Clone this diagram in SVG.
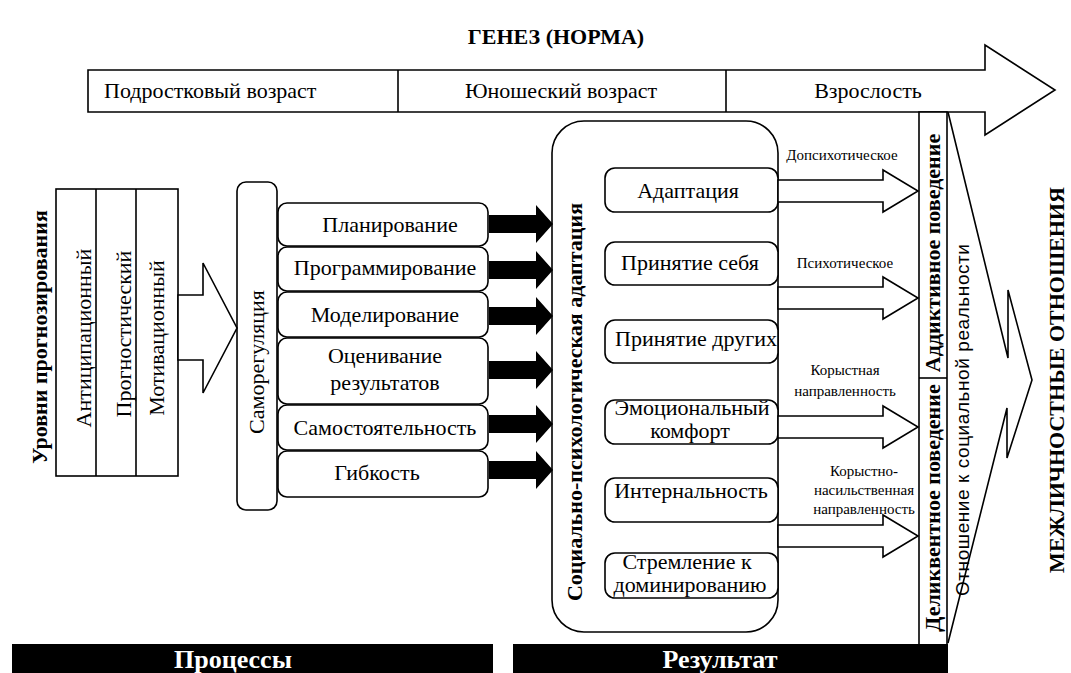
<svg xmlns="http://www.w3.org/2000/svg" width="1071" height="673" viewBox="0 0 1071 673">
<style>
.t{font-family:"Liberation Serif","Times New Roman","DejaVu Serif",serif;font-size:22px;fill:#000}
.b{font-weight:bold}
.s{font-family:"Liberation Serif","Times New Roman","DejaVu Serif",serif;font-size:15px;fill:#000}
.sans{font-family:"Liberation Sans","DejaVu Sans",sans-serif;font-size:19px;fill:#000}
.m{text-anchor:middle}
.box{fill:#fff;stroke:#000;stroke-width:1.6}
.ln{fill:none;stroke:#000;stroke-width:1.6}
.harrow{fill:#fff;stroke:#000;stroke-width:1.6;stroke-linejoin:miter}
.barr{fill:#000;stroke:none}
.bar{fill:#000}
.wt{fill:#fff;font-family:"Liberation Serif","Times New Roman","DejaVu Serif",serif;font-size:26px;font-weight:bold;text-anchor:middle}
</style>
<rect width="1071" height="673" fill="#fff"/>

<g id="title">
<text class="t b m" x="556" y="44" font-size="19">ГЕНЕЗ (НОРМА)</text>
</g>

<g id="genesis-arrow">
<polygon class="harrow" points="88,70 985,70 985,45 1055,90 985,135 985,112 88,112"/>
<line class="ln" x1="398" y1="70" x2="398" y2="112"/>
<line class="ln" x1="726" y1="70" x2="726" y2="112"/>
<text class="t" x="104" y="98">Подростковый возраст</text>
<text class="t m" x="561" y="98">Юношеский возраст</text>
<text class="t m" x="868" y="98">Взрослость</text>
</g>

<g id="levels">
<text class="t b m" transform="translate(47,337) rotate(-90)">Уровни прогнозирования</text>
<rect class="box" x="56" y="189" width="122" height="287"/>
<line class="ln" x1="96" y1="189" x2="96" y2="476"/>
<line class="ln" x1="136" y1="189" x2="136" y2="476"/>
<text class="t m" transform="translate(91,338) rotate(-90)">Антиципационный</text>
<text class="t m" transform="translate(131,334) rotate(-90)">Прогностический</text>
<text class="t m" transform="translate(164,338) rotate(-90)">Мотивационный</text>
</g>

<g id="selfreg">
<rect class="box" x="237" y="182" width="40" height="328" rx="9"/>
<text class="t m" transform="translate(264,362) rotate(-90)">Саморегуляция</text>
</g>

<g id="processes">
<rect class="box" x="278" y="203" width="210" height="43" rx="9"/>
<text class="t m" x="390" y="232">Планирование</text>
<rect class="box" x="278" y="247" width="210" height="44" rx="9"/>
<text class="t m" x="385" y="275">Программирование</text>
<rect class="box" x="278" y="292" width="210" height="45" rx="9"/>
<text class="t m" x="385" y="322">Моделирование</text>
<rect class="box" x="278" y="338" width="210" height="66" rx="9"/>
<text class="t m" x="385" y="363">Оценивание</text>
<text class="t m" x="385" y="390">результатов</text>
<rect class="box" x="278" y="405" width="210" height="45" rx="9"/>
<text class="t m" x="385" y="435">Самостоятельность</text>
<rect class="box" x="278" y="451" width="210" height="46" rx="9"/>
<text class="t m" x="377" y="480">Гибкость</text>
</g>

<g id="adaptation">
<rect class="box" x="552" y="121" width="226" height="511" rx="32"/>
<text class="t b m" transform="translate(582,402) rotate(-90)">Социально-психологическая адаптация</text>
<rect class="box" x="605" y="168" width="173" height="44" rx="10"/>
<text class="t m" x="688" y="198">Адаптация</text>
<rect class="box" x="605" y="242" width="173" height="43" rx="10"/>
<text class="t m" x="690" y="270">Принятие себя</text>
<rect class="box" x="605" y="320" width="173" height="43" rx="10"/>
<text class="t m" x="696" y="346">Принятие других</text>
<rect class="box" x="605" y="400" width="173" height="44" rx="10"/>
<text class="t m" x="692" y="415" font-size="20">Эмоциональный</text>
<text class="t m" x="690" y="438" font-size="20">комфорт</text>
<rect class="box" x="605" y="478" width="173" height="44" rx="10"/>
<text class="t m" x="691" y="498">Интернальность</text>
<rect class="box" x="605" y="553" width="173" height="45" rx="10"/>
<text class="t m" x="687" y="569" font-size="20">Стремление к</text>
<text class="t m" x="690" y="592" font-size="20">доминированию</text>
</g>

<g id="behaviour">
<rect class="box" x="919" y="112" width="28" height="533"/>
<line class="ln" x1="919" y1="378" x2="947" y2="378"/>
<text class="t b m" font-size="20" transform="translate(940,253) rotate(-90)">Аддиктивное поведение</text>
<text class="t b m" font-size="20" transform="translate(940,508) rotate(-90)">Деликвентное поведение</text>
</g>

<g id="social-reality">
<text class="sans m" transform="translate(969,420) rotate(-90)" textLength="352" lengthAdjust="spacing">Отношение к социальной реальности</text>
</g>

<g id="interpersonal">
<text class="t b m" font-size="26" transform="translate(1064,380) rotate(-90)">МЕЖЛИЧНОСТНЫЕ ОТНОШЕНИЯ</text>
</g>

<g id="connectors">
<polygon class="harrow" points="178,295 203,295 203,263 237,328 203,393 203,360 178,360"/>
<polygon class="barr" points="489,215 536,215 536,205 553,224 536,243 536,233 489,233"/>
<polygon class="barr" points="489,261 536,261 536,251 553,270 536,289 536,279 489,279"/>
<polygon class="barr" points="489,307 536,307 536,297 553,316 536,335 536,325 489,325"/>
<polygon class="barr" points="489,361 536,361 536,351 553,370 536,389 536,379 489,379"/>
<polygon class="barr" points="489,415 536,415 536,405 553,424 536,443 536,433 489,433"/>
<polygon class="barr" points="489,461 536,461 536,451 553,470 536,489 536,479 489,479"/>
<polygon class="harrow" points="778,180 883,180 883,170 918,191 883,212 883,202 778,202"/>
<polygon class="harrow" points="778,287 883,287 883,277 918,298 883,319 883,309 778,309"/>
<polygon class="harrow" points="778,416 883,416 883,406 918,427 883,448 883,438 778,438"/>
<polygon class="harrow" points="778,525 883,525 883,515 918,536 883,557 883,547 778,547"/>
<polyline class="ln" stroke-width="1.3" points="948,112 1008,358 1008,290 1032,380 1007,458 1007,408 948,643"/>
<text class="s m" x="842" y="160">Допсихотическое</text>
<text class="s m" x="845" y="268">Психотическое</text>
<text class="s m" x="845" y="375">Корыстная</text>
<text class="s m" x="845" y="396">направленность</text>
<text class="s m" x="864" y="476">Корыстно-</text>
<text class="s m" x="864" y="495">насильственная</text>
<text class="s m" x="864" y="514">направленность</text>
</g>

<g id="footer">
<rect class="bar" x="12" y="644" width="481" height="29"/>
<text class="wt" x="233" y="668">Процессы</text>
<rect class="bar" x="513" y="644" width="435" height="29"/>
<text class="wt" x="720" y="668">Результат</text>
</g>
</svg>
